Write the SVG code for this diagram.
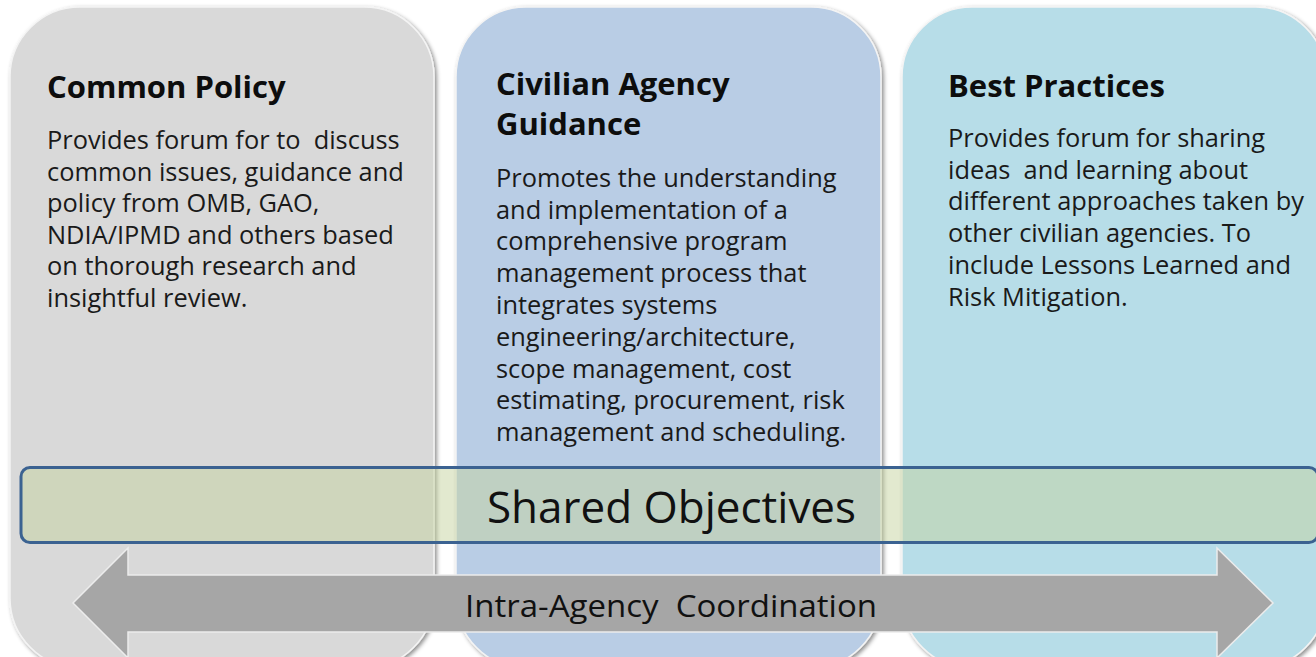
<svg xmlns="http://www.w3.org/2000/svg" width="1316" height="657" viewBox="0 0 1316 657">
<defs>
<filter id="shadow" x="-5%" y="-5%" width="110%" height="110%">
<feDropShadow dx="2" dy="2" stdDeviation="2" flood-color="#000" flood-opacity="0.45"/>
</filter>
<style>
.panel{stroke:#f4f4f4;stroke-width:1.5;filter:url(#shadow)}
.title{font-family:"Open Sans","Liberation Sans",sans-serif;font-weight:bold;font-size:31px;fill:#0d0d0d}
.body{font-family:"Open Sans","Liberation Sans",sans-serif;font-size:25.4px;fill:#1a1a1a}
.big{font-family:"Open Sans","Liberation Sans",sans-serif;font-size:44px;fill:#111;text-anchor:middle}
.arrowlbl{font-family:"Open Sans","Liberation Sans",sans-serif;font-size:31px;fill:#111;text-anchor:middle}
</style>
</defs>
<rect width="1316" height="657" fill="#ffffff"/>
<g id="common-policy">
<rect class="panel" x="10" y="7" width="424" height="661" rx="70" ry="70" fill="#d9d9d9"/>
<text class="title" x="47" y="98">Common Policy</text>
<text class="body" xml:space="preserve"><tspan x="47" y="149">Provides forum for to  discuss</tspan><tspan x="47" y="180.6">common issues, guidance and</tspan><tspan x="47" y="212.2">policy from OMB, GAO,</tspan><tspan x="47" y="243.8">NDIA/IPMD and others based</tspan><tspan x="47" y="275.4">on thorough research and</tspan><tspan x="47" y="307">insightful review.</tspan></text>
</g>
<g id="civilian-agency-guidance">
<rect class="panel" x="456" y="7" width="425" height="661" rx="70" ry="70" fill="#b9cde5"/>
<text class="title"><tspan x="496" y="95">Civilian Agency</tspan><tspan x="496" y="135">Guidance</tspan></text>
<text class="body"><tspan x="496" y="186.7">Promotes the understanding</tspan><tspan x="496" y="218.5">and implementation of a</tspan><tspan x="496" y="250.3">comprehensive program</tspan><tspan x="496" y="282.1">management process that</tspan><tspan x="496" y="313.9">integrates systems</tspan><tspan x="496" y="345.7">engineering/architecture,</tspan><tspan x="496" y="377.5">scope management, cost</tspan><tspan x="496" y="409.3">estimating, procurement, risk</tspan><tspan x="496" y="441.1">management and scheduling.</tspan></text>
</g>
<g id="best-practices">
<rect class="panel" x="902" y="7" width="424" height="661" rx="70" ry="70" fill="#b7dde8"/>
<text class="title" x="948" y="97">Best Practices</text>
<text class="body" xml:space="preserve"><tspan x="948" y="147">Provides forum for sharing</tspan><tspan x="948" y="178.7">ideas  and learning about</tspan><tspan x="948" y="210.4">different approaches taken by</tspan><tspan x="948" y="242.1">other civilian agencies. To</tspan><tspan x="948" y="273.8">include Lessons Learned and</tspan><tspan x="948" y="305.5">Risk Mitigation.</tspan></text>
</g>
<g id="shared-objectives">
<rect x="21" y="467.5" width="1297" height="75" rx="9" ry="9" fill="rgb(197,211,159)" fill-opacity="0.5" stroke="#3b6291" stroke-width="3"/>
<text class="big" x="671.5" y="522.7">Shared Objectives</text>
</g>
<g id="connectors">
<g id="intra-agency-coordination">
<polygon points="73,603 128,548 128,575 1217,575 1217,548 1273,603 1217,658 1217,632 128,632 128,658" fill="#a6a6a6" stroke="#ececec" stroke-width="1.5"/>
<text class="arrowlbl" xml:space="preserve" x="671" y="616.7" textLength="412" lengthAdjust="spacingAndGlyphs">Intra-Agency  Coordination</text>
</g>
</g>
</svg>
